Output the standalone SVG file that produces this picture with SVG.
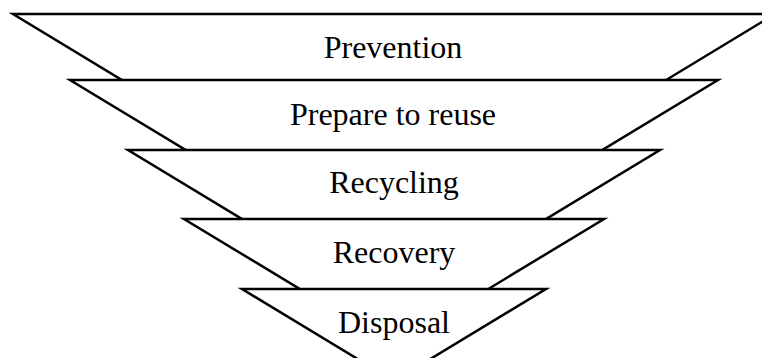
<svg xmlns="http://www.w3.org/2000/svg" width="762" height="358" viewBox="0 0 762 358">
<style>
.s{fill:#fff;stroke:#000;stroke-width:2.5;stroke-linejoin:miter}
.t{font-family:"Liberation Serif","Times New Roman",serif;font-size:32px;fill:#000;text-anchor:middle}
</style>
<rect width="762" height="358" fill="#fff"/>
<g id="prevention"><polygon class="s" points="13,14 775,14 394,245"/><text class="t" x="393" y="58">Prevention</text></g>
<g id="prepare"><polygon class="s" points="70,80 718,80 394,276"/><text class="t" x="393" y="125">Prepare to reuse</text></g>
<g id="recycling"><polygon class="s" points="128,150 660,150 394,311"/><text class="t" x="394" y="193">Recycling</text></g>
<g id="recovery"><polygon class="s" points="184,219 604,219 394,346"/><text class="t" x="394" y="263">Recovery</text></g>
<g id="disposal"><polygon class="s" points="242,289 546,289 394,381"/><text class="t" x="394" y="333">Disposal</text></g>
<g id="connectors"></g>
</svg>
